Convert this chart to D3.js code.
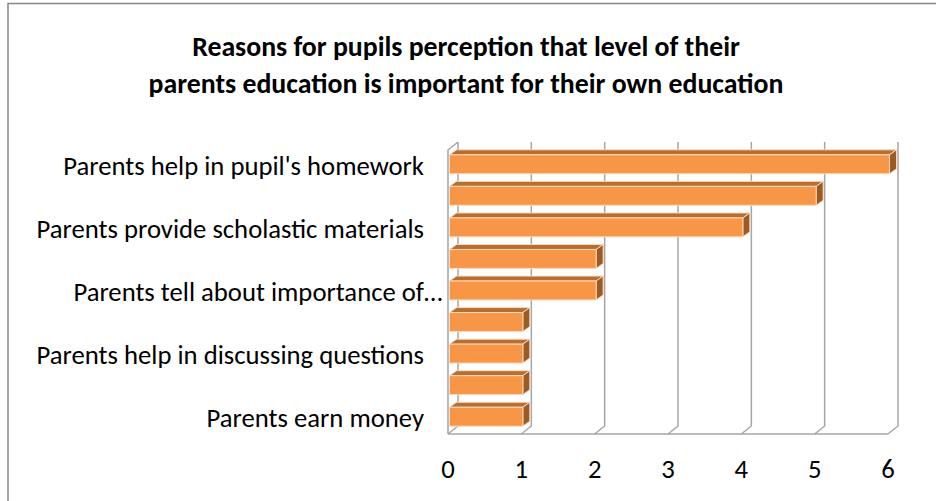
<!DOCTYPE html>
<html>
<head>
<meta charset="utf-8">
<script src="https://cdn.jsdelivr.net/npm/d3@7"></script>
<style>
  html, body { margin: 0; padding: 0; background: #fff; }
  svg { display: block; font-family: Carlito, Lato, "Open Sans", sans-serif; }
</style>
</head>
<body>
<svg id="chart" width="936" height="501"></svg>
<script>
// data (top to bottom); only every second label is shown
const categories = [
  "Parents help in pupil's homework", "",
  "Parents provide scholastic materials", "",
  "Parents tell about importance of…", "",
  "Parents help in discussing questions", "",
  "Parents earn money"
];
const values = [6, 5, 4, 2, 2, 1, 1, 1, 1];
const xTicks = [0, 1, 2, 3, 4, 5, 6];
const titleLines = [
  "Reasons for pupils perception that level of their",
  "parents education is important for their own education"
];

const svg = d3.select('#chart');
const W = 936, H = 501;

// chart frame (top and left edges visible)
svg.append('rect').attr('x', 8).attr('y', 3.5).attr('width', W + 10).attr('height', H + 10)
  .attr('fill', '#fff').attr('stroke', '#868686').attr('stroke-width', 1.5);

// title
svg.append('g').selectAll('text').data(titleLines).enter().append('text')
  .attr('x', 466).attr('y', (d, i) => 56 + i * 37)
  .attr('text-anchor', 'middle').attr('font-weight', 'bold').attr('font-size', 27.8)
  .attr('fill', '#000').text((d) => d);

// 3d geometry
const floorY = 434, topY = 150;
const depth = { dx: 10, dy: -8 }; // floor / wall depth
const barDepth = { dx: 7, dy: -5 };
const setBack = { dx: 1.5, dy: -1.5 };

const x = d3.scaleLinear().domain([0, 6]).range([448, 888]);
const y = d3.scaleBand().domain(d3.range(categories.length)).range([topY, floorY])
  .paddingInner(0.4).paddingOuter(0.2);

const grid = svg.append('g').attr('fill', 'none').attr('stroke', '#a6a6a6').attr('stroke-width', 1.5);
// floor front edge
grid.append('line').attr('x1', x(0)).attr('x2', x(6)).attr('y1', floorY).attr('y2', floorY);
// floor diagonals + back wall gridlines
grid.selectAll('path.gl').data(xTicks).enter().append('path').attr('class', 'gl')
  .attr('d', (d) => `M${x(d)},${floorY} L${x(d) + depth.dx},${floorY + depth.dy} L${x(d) + depth.dx},${topY + depth.dy}`);
// left side wall front edge
grid.append('path')
  .attr('d', `M${x(0)},${floorY} L${x(0)},${topY} L${x(0) + depth.dx},${topY + depth.dy}`);

// bars
const bars = svg.append('g').selectAll('g.bar').data(values).enter().append('g').attr('class', 'bar')
  .attr('stroke', '#fcd9bd').attr('stroke-width', 1).attr('stroke-linejoin', 'round');

const bx0 = x(0) + setBack.dx;
const by = (i) => y(i) + setBack.dy;
const bh = y.bandwidth();

bars.append('path').attr('fill', '#b86e2f') // top face
  .attr('d', (d, i) => `M${bx0},${by(i)} L${bx0 + barDepth.dx},${by(i) + barDepth.dy} L${x(d) + setBack.dx + barDepth.dx},${by(i) + barDepth.dy} L${x(d) + setBack.dx},${by(i)} Z`);
bars.append('path').attr('fill', '#9c5a24') // side face
  .attr('d', (d, i) => {
    const xr = x(d) + setBack.dx;
    return `M${xr},${by(i)} L${xr + barDepth.dx},${by(i) + barDepth.dy} L${xr + barDepth.dx},${by(i) + bh + barDepth.dy} L${xr},${by(i) + bh} Z`;
  });
bars.append('rect').attr('fill', '#f79646') // front face
  .attr('x', bx0).attr('y', (d, i) => by(i))
  .attr('width', (d) => x(d) - x(0)).attr('height', bh);

// category labels (right aligned, ellipsis hangs past the edge)
const labelX = 424;
const labels = svg.append('g').attr('font-size', 26.7).attr('fill', '#000');
categories.forEach((c, i) => {
  if (!c) return;
  const cy = y(i) + bh / 2 + 9;
  const trunc = c.endsWith('…');
  labels.append('text').attr('x', labelX).attr('y', cy).attr('text-anchor', 'end')
    .text(trunc ? c.slice(0, -1) : c);
  if (trunc) labels.append('text').attr('x', labelX).attr('y', cy).text('…');
});

// value axis labels
svg.append('g').attr('font-size', 26.7).attr('fill', '#000').selectAll('text').data(xTicks).enter()
  .append('text').attr('x', (d) => x(d)).attr('y', 478).attr('text-anchor', 'middle').text((d) => d);
</script>
</body>
</html>
